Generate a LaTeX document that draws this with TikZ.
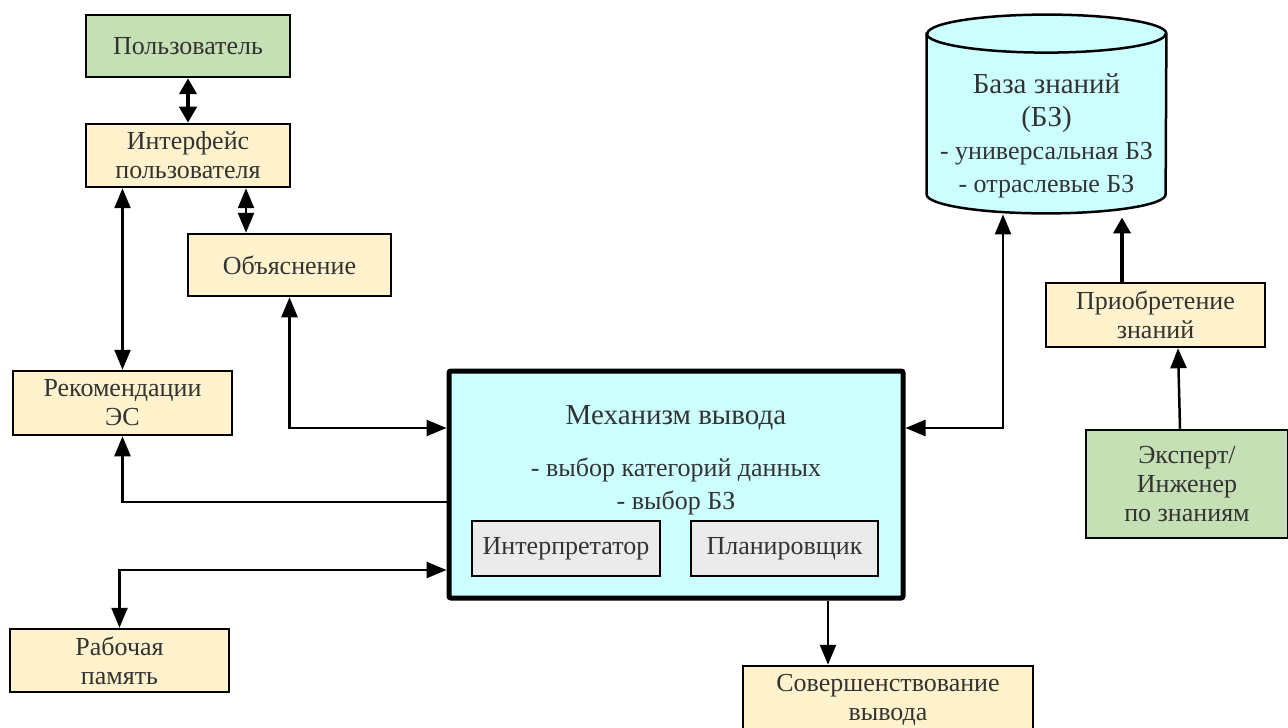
\documentclass[tikz,border=0pt]{standalone}
\usepackage{fontspec}
\setmainfont{Liberation Serif}
\usetikzlibrary{arrows.meta}
\definecolor{usergreen}{HTML}{C5E0B4}
\definecolor{blockyellow}{HTML}{FFF2CC}
\definecolor{enginecyan}{HTML}{CCFFFF}
\definecolor{subgray}{HTML}{EBEBEB}
\definecolor{textgray}{HTML}{333333}
\tikzset{
  blk/.style={draw, line width=1.25pt, align=center, inner sep=0pt,
    text=textgray, font=\fontsize{13}{14.5}\selectfont},
  txt/.style={align=center, inner sep=0pt, text=textgray,
    font=\fontsize{13}{16.5}\selectfont},
  link/.style={line width=1.25pt, >={Triangle[length=10pt,width=8pt]}},
  thicklink/.style={line width=2pt, >={Triangle[length=8pt,width=8.5pt]}},
  endcap/.style={x radius=59.75pt, y radius=9.5pt}
}
\begin{document}
\begin{tikzpicture}[x=0.5pt,y=-0.5pt]
  \useasboundingbox (0,0) rectangle (1288,727);
  % left column
  \node[blk, fill=usergreen, minimum width=102pt, minimum height=31pt] (user) at (188,46) {Пользователь};
  \node[blk, fill=blockyellow, minimum width=102pt, minimum height=31.5pt] (iface) at (188,155.5) {Интерфейс\\пользователя};
  \node[blk, fill=blockyellow, minimum width=101.5pt, minimum height=31pt] (expl) at (289.5,265) {Объяснение};
  \node[blk, fill=blockyellow, minimum width=109.5pt, minimum height=32pt] (rec) at (122.5,403) {Рекомендации\\ЭС};
  \node[blk, fill=blockyellow, minimum width=109.5pt, minimum height=31.5pt] (mem) at (119.5,660.5) {Рабочая\\память};
  % inference engine
  \node[blk, fill=enginecyan, line width=2.5pt, rounded corners=1pt, minimum width=227pt, minimum height=113.5pt] (mech) at (676,484.5) {};
  \node[txt, font=\fontsize{14.5}{16.5}\selectfont] (mechtitle) at (676,418) {Механизм вывода};
  \node[txt] (mechlist) at (676,486) {- выбор категорий данных\\- выбор БЗ};
  \node[blk, fill=subgray, minimum width=94pt, minimum height=27.5pt] (interp) at (566,548.5) {Интерпретатор};
  \node[blk, fill=subgray, minimum width=93.5pt, minimum height=27.5pt] (plan) at (784.5,548.5) {Планировщик};
  \node[blk, fill=blockyellow, minimum width=145pt, minimum height=34pt] (impr) at (888,700) {Совершенствование\\вывода};
  % knowledge base (cylinder)
  \node[minimum width=119.5pt, minimum height=99pt, inner sep=0pt] (kb) at (1046.5,114) {};
  \draw[line width=1.25pt, fill=enginecyan] ([yshift=-9.5pt]kb.north west) -- ([yshift=9.5pt]kb.south west)
    arc[start angle=180, end angle=360, endcap] -- ([yshift=-9.5pt]kb.north east)
    arc[start angle=0, end angle=180, endcap] -- cycle;
  \draw[line width=1.25pt] ([yshift=-9.5pt]kb.north west) arc[start angle=180, end angle=360, endcap];
  \node[txt] (kbtext) at (1046.5,136) {{\fontsize{14.5}{16.5}\selectfont База знаний}\\{\fontsize{14.5}{16.5}\selectfont (БЗ)}\\- универсальная БЗ\\- отраслевые БЗ};
  \node[blk, fill=blockyellow, minimum width=109.5pt, minimum height=32pt] (acq) at (1155.5,315) {Приобретение\\знаний};
  \node[blk, fill=usergreen, minimum width=101pt, minimum height=54pt] (expert) at (1187,484) {Эксперт/\\Инженер\\по знаниям};
  % links
  \draw[thicklink, <->] (user) -- (iface);
  \draw[link, <->] (iface.south -| rec.north) -- (rec.north);
  \draw[link, <->] ([xshift=29pt]iface.south) -- ([xshift=-21.75pt]expl.north);
  \draw[link, <->] (expl.south) |- ([yshift=28.25pt]mech.west);
  \draw[link, ->] ([yshift=-8.75pt]mech.west) -| (rec.south);
  \draw[link, <->] ([yshift=-42.75pt]mech.west) -| (mem.north);
  \draw[link, ->] ([xshift=76pt]mech.south) -- ([xshift=-30pt]impr.north);
  \draw[link, <->, shorten <=0.5pt] ([xshift=-21.75pt]kb.south) |- ([yshift=28.25pt]mech.east);
  \draw[thicklink, ->, shorten >=2pt] ([xshift=-16.75pt]acq.north) -- ([xshift=-16.75pt]acq.north |- kb.south);
  \draw[link, ->] ([xshift=-3.5pt]expert.north) -- ([xshift=11.25pt]acq.south);
\end{tikzpicture}
\end{document}
